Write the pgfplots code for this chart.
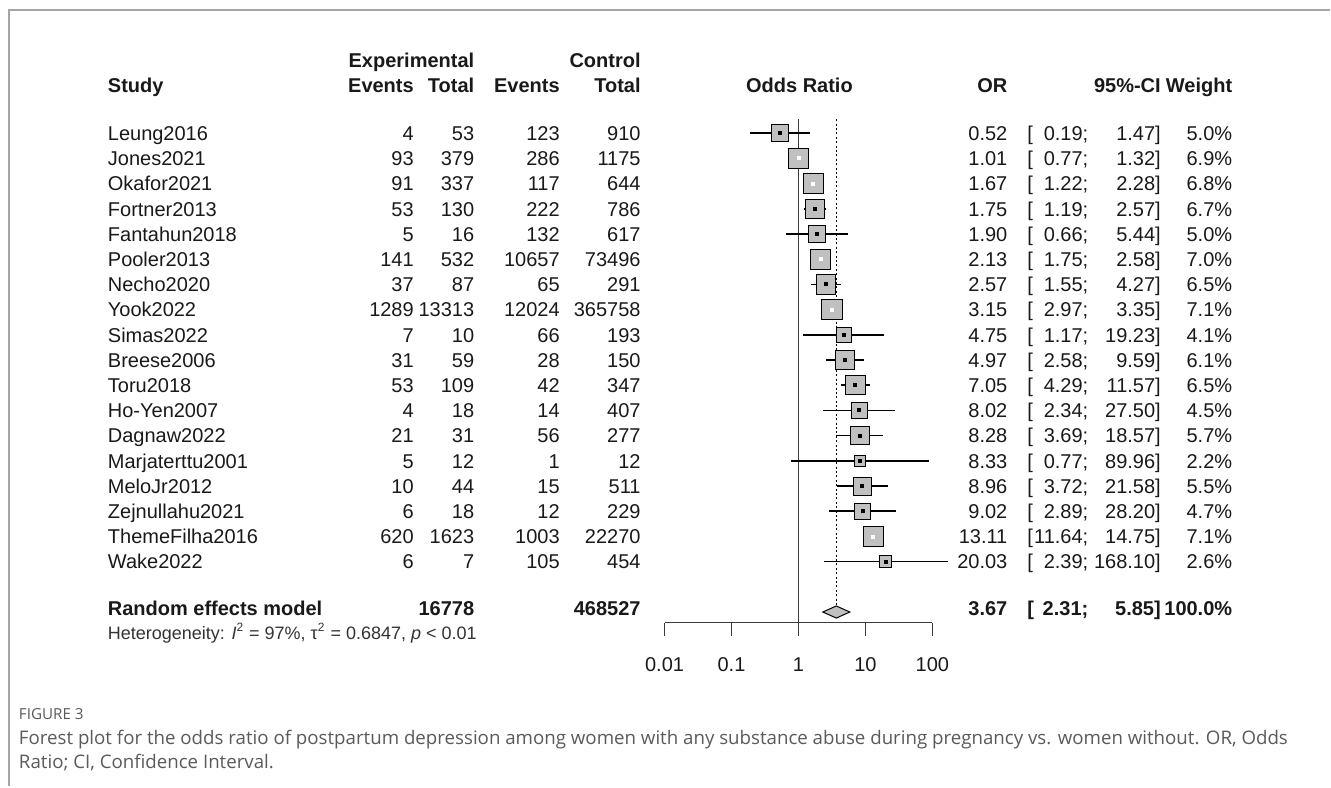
\documentclass[border=0pt]{standalone}
\usepackage{pgfplots}
\pgfplotsset{compat=1.18}
\usepackage{pgfplotstable}
\usepackage{fontspec}
\setmainfont{Liberation Sans}
\newfontfamily\capfont{Open Sans}
\definecolor{sqgray}{RGB}{192,192,192}
\definecolor{txt}{RGB}{25,25,25}
\definecolor{axgray}{RGB}{60,60,60}
\definecolor{framegray}{RGB}{165,165,165}
\definecolor{capgray}{RGB}{90,90,90}

\pgfplotstableread{
row or lo hi w
1 0.52 0.19 1.47 5.0
2 1.01 0.77 1.32 6.9
3 1.67 1.22 2.28 6.8
4 1.75 1.19 2.57 6.7
5 1.90 0.66 5.44 5.0
6 2.13 1.75 2.58 7.0
7 2.57 1.55 4.27 6.5
8 3.15 2.97 3.35 7.1
9 4.75 1.17 19.23 4.1
10 4.97 2.58 9.59 6.1
11 7.05 4.29 11.57 6.5
12 8.02 2.34 27.50 4.5
13 8.28 3.69 18.57 5.7
14 8.33 0.77 89.96 2.2
15 8.96 3.72 21.58 5.5
16 9.02 2.89 28.20 4.7
17 13.11 11.64 14.75 7.1
18 20.03 2.39 168.10 2.6
}\forestdata

\begin{document}
\begin{tikzpicture}[x=0.5pt,y=-0.5pt,
  every node/.style={inner sep=0pt, outer sep=0pt, text=txt, font=\fontsize{10}{12}\selectfont}]
\path (0,0) rectangle (1331,787);
\draw[framegray, line width=0.9pt] (9,787) -- (9,10) -- (1331,10);

% headers
\begin{scope}[every node/.append style={font=\bfseries\fontsize{10}{12}\selectfont}]
\node[anchor=base east] at (474.5,68) {Experimental};
\node[anchor=base east] at (641,68) {Control};
\node[anchor=base west] at (108,93) {Study};
\node[anchor=base east] at (414,93) {Events};
\node[anchor=base east] at (474.5,93) {Total};
\node[anchor=base east] at (560,93) {Events};
\node[anchor=base east] at (641,93) {Total};
\node[anchor=base] at (800,93) {Odds Ratio};
\node[anchor=base east] at (1008,93) {OR};
\node[anchor=base east] at (1161.5,93) {95\%-CI};
\node[anchor=base east] at (1233,93) {Weight};
\end{scope}

% study rows
\foreach \i/\name/\ee/\et/\ce/\ct/\orv/\lo/\hi/\w in {
1/Leung2016/4/53/123/910/0.52/0.19/1.47/5.0,
2/Jones2021/93/379/286/1175/1.01/0.77/1.32/6.9,
3/Okafor2021/91/337/117/644/1.67/1.22/2.28/6.8,
4/Fortner2013/53/130/222/786/1.75/1.19/2.57/6.7,
5/Fantahun2018/5/16/132/617/1.90/0.66/5.44/5.0,
6/Pooler2013/141/532/10657/73496/2.13/1.75/2.58/7.0,
7/Necho2020/37/87/65/291/2.57/1.55/4.27/6.5,
8/Yook2022/1289/13313/12024/365758/3.15/2.97/3.35/7.1,
9/Simas2022/7/10/66/193/4.75/1.17/19.23/4.1,
10/Breese2006/31/59/28/150/4.97/2.58/9.59/6.1,
11/Toru2018/53/109/42/347/7.05/4.29/11.57/6.5,
12/Ho-Yen2007/4/18/14/407/8.02/2.34/27.50/4.5,
13/Dagnaw2022/21/31/56/277/8.28/3.69/18.57/5.7,
14/Marjaterttu2001/5/12/1/12/8.33/0.77/89.96/2.2,
15/MeloJr2012/10/44/15/511/8.96/3.72/21.58/5.5,
16/Zejnullahu2021/6/18/12/229/9.02/2.89/28.20/4.7,
17/ThemeFilha2016/620/1623/1003/22270/13.11/11.64/14.75/7.1,
18/Wake2022/6/7/105/454/20.03/2.39/168.10/2.6}{
  \pgfmathsetmacro\yb{140.6+(\i-1)*25.22}
  \node[anchor=base west] at (108,\yb) {\name};
  \node[anchor=base east] at (414,\yb) {\ee};
  \node[anchor=base east] at (474.5,\yb) {\et};
  \node[anchor=base east] at (560,\yb) {\ce};
  \node[anchor=base east] at (641,\yb) {\ct};
  \node[anchor=base east] at (1008,\yb) {\orv};
  \node[anchor=base west] at (1028,\yb) {[};
  \node[anchor=base east] at (1089,\yb) {\lo;};
  \node[anchor=base east] at (1161.5,\yb) {\hi]};
  \node[anchor=base east] at (1233,\yb) {\w\%};
}

% pooled row
\begin{scope}[every node/.append style={font=\bfseries\fontsize{10}{12}\selectfont}]
\node[anchor=base west] at (108,616) {Random effects model};
\node[anchor=base east] at (474.5,616) {16778};
\node[anchor=base east] at (641,616) {468527};
\node[anchor=base east] at (1008,616) {3.67};
\node[anchor=base west] at (1028,616) {[};
\node[anchor=base east] at (1089,616) {2.31;};
\node[anchor=base east] at (1161.5,616) {5.85]};
\node[anchor=base east] at (1233,616) {100.0\%};
\end{scope}
\node[anchor=base west, font=\fontsize{9}{11}\selectfont, text=black!80] at (108,640)
  {Heterogeneity: \textit{I}\textsuperscript{2} = 97\%, τ\textsuperscript{2} = 0.6847, \textit{p} < 0.01};

% caption
\node[anchor=base west, font=\capfont\fontsize{7.6}{9}\selectfont, text=capgray] at (19,720) {FIGURE 3};
\node[anchor=base west, font=\capfont\fontsize{9.35}{11}\selectfont, text=capgray] at (19,745)
  {Forest plot for the odds ratio of postpartum depression among women with any substance abuse during pregnancy vs. women without. OR, Odds};
\node[anchor=base west, font=\capfont\fontsize{9.35}{11}\selectfont, text=capgray] at (19,769)
  {Ratio; CI, Confidence Interval.};

\begin{axis}[at={(332.5pt,-311.5pt)}, anchor=south west, scale only axis,
  width=134pt, height=257.5pt,
  xmode=log, xmin=0.01, xmax=100, ymin=0, ymax=20.42, y dir=reverse,
  axis x line*=bottom, axis y line=none, clip=false,
  xtick={0.01,0.1,1,10,100}, xticklabels={}, xminorticks=false,
  tick align=outside, major tick length=6.5pt,
  axis line style={axgray, line width=0.75pt, -},
  x tick style={axgray, line width=0.75pt},
]
% reference lines
\addplot[axgray, line width=0.75pt] coordinates {(1,0.45) (1,20.42)};
\addplot[black, line width=0.6pt, dash pattern=on 1pt off 1.2pt] coordinates {(3.67,0.45) (3.67,19.76)};
% squares sized by weight
\addplot[only marks, mark=square*, scatter,
  scatter/use mapped color={draw=none, fill=sqgray},
  visualization depends on={1.9*sqrt(\thisrow{w}) \as \msize},
  scatter/@pre marker code/.append style={/tikz/mark size=\msize pt}]
  table[x=or, y=row] {\forestdata};
% black confidence intervals
\addplot[black, line width=0.8pt, unbounded coords=jump] coordinates {
(0.19,1) (1.47,1) (1,nan)
(1.19,4) (2.57,4) (1,nan)
(0.66,5) (5.44,5) (1,nan)
(1.55,7) (4.27,7) (1,nan)
(1.17,9) (19.23,9) (1,nan)
(2.58,10) (9.59,10) (1,nan)
(4.29,11) (11.57,11) (1,nan)
(2.34,12) (27.50,12) (1,nan)
(3.69,13) (18.57,13) (1,nan)
(0.77,14) (89.96,14) (1,nan)
(3.72,15) (21.58,15) (1,nan)
(2.89,16) (28.20,16) (1,nan)
(2.39,18) (168.10,18)
};
% white confidence intervals (inside the square)
\addplot[white, line width=0.8pt, unbounded coords=jump] coordinates {
(0.77,2) (1.32,2) (1,nan)
(1.22,3) (2.28,3) (1,nan)
(1.75,6) (2.58,6) (1,nan)
(2.97,8) (3.35,8) (1,nan)
(11.64,17) (14.75,17)
};
% point estimates
\addplot[only marks, mark=square*, mark size=0.75pt, black] coordinates {
(0.52,1) (1.75,4) (1.90,5) (2.57,7) (4.75,9) (4.97,10) (7.05,11) (8.02,12)
(8.28,13) (8.33,14) (8.96,15) (9.02,16) (20.03,18)};
\addplot[only marks, mark=square*, mark size=0.75pt, white] coordinates {
(1.01,2) (1.67,3) (2.13,6) (3.15,8) (13.11,17)};
% pooled diamond
\addplot[fill=sqgray, draw=black, line width=0.5pt] coordinates {
(2.31,20) (3.67,19.76) (5.85,20) (3.67,20.24)} -- cycle;
% tick labels
\node[anchor=base] at (axis cs:0.01,22.36) {0.01};
\node[anchor=base] at (axis cs:0.1,22.36) {0.1};
\node[anchor=base] at (axis cs:1,22.36) {1};
\node[anchor=base] at (axis cs:10,22.36) {10};
\node[anchor=base] at (axis cs:100,22.36) {100};
\end{axis}
\end{tikzpicture}
\end{document}
